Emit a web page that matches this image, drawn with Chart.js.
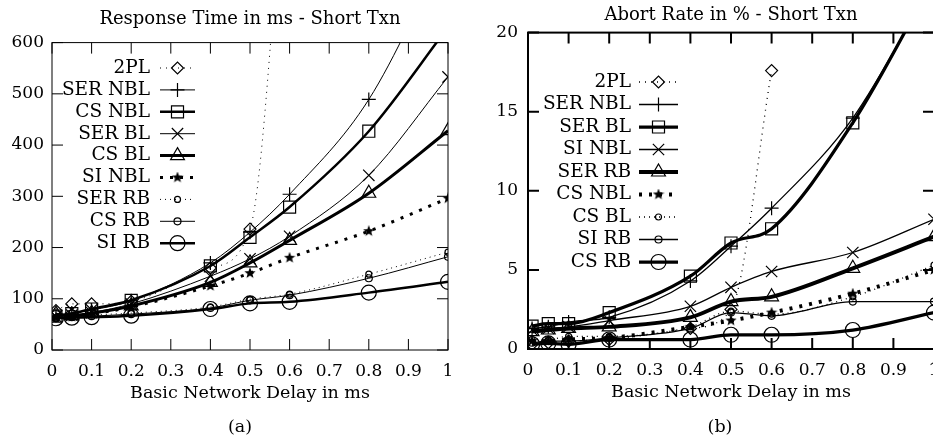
<!DOCTYPE html>
<html>
<head>
<meta charset="utf-8">
<script src="https://cdn.jsdelivr.net/npm/chart.js@4.4.0/dist/chart.umd.min.js"></script>
<style>
  html, body { margin: 0; padding: 0; background: #fff; overflow: hidden; }
  body { width: 933px; height: 443px; position: relative; }
  #cajaA { position: absolute; left: 0; top: 0; width: 466px; height: 443px; }
  #cajaB { position: absolute; left: 466px; top: 0; width: 485px; height: 443px; }
</style>
</head>
<body>
<div id="cajaA"><canvas id="graficoA" width="466" height="443"></canvas></div>
<div id="cajaB"><canvas id="graficoB" width="485" height="443"></canvas></div>
<script>
// Retardo de red (eje x)
const retardos = [0.01, 0.05, 0.1, 0.2, 0.4, 0.5, 0.6, 0.8, 1.0];

// (a) Tiempo de respuesta en ms
const etiquetasA = ["2PL", "SER NBL", "CS NBL", "SER BL", "CS BL", "SI NBL", "SER RB", "CS RB", "SI RB"];
const rt2PL    = [77, 90, 90, 95, 160, 236, 1080];
const rtSerNbl = [68, 72, 78, 96, 170, 230, 304, 489, 790];
const rtCsNbl  = [66, 71, 80, 97, 164, 220, 279, 427, 630];
const rtSerBl  = [65, 68, 73, 90, 144, 178, 222, 341, 533];
const rtCsBl   = [70, 67, 72, 86, 132, 170, 214, 306, 428];
const rtSiNbl  = [63, 65, 70, 84, 125, 150, 180, 232, 296];
const rtSerRb  = [62, 65, 68, 72, 84, 99, 109, 148, 191];
const rtCsRb   = [62, 64, 66, 70, 82, 97, 107, 140, 182];
const rtSiRb   = [62, 63, 64, 67, 80, 91, 94, 112, 133];

// (b) Tasa de abortos en %
const etiquetasB = ["2PL", "SER NBL", "SER BL", "SI NBL", "SER RB", "CS NBL", "CS BL", "SI RB", "CS RB"];
const ab2PL    = [0.3, 0.4, 0.5, 0.6, 1.3, 2.5, 17.6];
const abSerNbl = [1.3, 1.4, 1.7, 2.0, 4.3, 6.5, 8.9, 14.6, 23.3];
const abSerBl  = [1.45, 1.6, 1.6, 2.3, 4.6, 6.7, 7.6, 14.3, 23.4];
const abSiNbl  = [1.2, 1.3, 1.4, 1.8, 2.7, 3.9, 4.9, 6.1, 8.2];
const abSerRb  = [1.1, 1.2, 1.3, 1.4, 2.0, 3.0, 3.3, 5.1, 7.1];
const abCsNbl  = [0.5, 0.5, 0.6, 0.7, 1.4, 1.8, 2.3, 3.5, 5.0];
const abCsBl   = [0.6, 0.6, 0.8, 0.8, 1.4, 2.4, 2.2, 3.3, 5.3];
const abSiRb   = [0.4, 0.5, 0.5, 0.7, 1.3, 2.3, 2.1, 3.0, 3.0];
const abCsRb   = [0.3, 0.35, 0.3, 0.6, 0.6, 0.9, 0.9, 1.2, 2.3];

const fuente = "'DejaVu Serif', serif";

// Estrella rellena para SI NBL / CS NBL
function hacerEstrella(r) {
  const c = document.createElement("canvas");
  c.width = c.height = Math.ceil(2 * r);
  const g = c.getContext("2d");
  g.beginPath();
  for (let i = 0; i < 10; i++) {
    const ang = -Math.PI / 2 + (i * Math.PI) / 5;
    const rr = i % 2 === 0 ? r : r * 0.42;
    g.lineTo(r + rr * Math.cos(ang), r + rr * Math.sin(ang));
  }
  g.closePath();
  g.fillStyle = "#000";
  g.fill();
  return c;
}
const estrella = hacerEstrella(6);

// Estilos de linea y marcador
const est = {
  rombo:    { pointStyle: "rectRot", pointRadius: 6, borderWidth: 1, borderDash: [1, 5] },
  cruz:     { pointStyle: "cross", pointRadius: 7, borderWidth: 1 },
  cuadrado: { pointStyle: "rect", pointRadius: 8.5, borderWidth: 2.5 },
  aspa:     { pointStyle: "crossRot", pointRadius: 8, borderWidth: 1 },
  triang:   { pointStyle: "triangle", pointRadius: 8, borderWidth: 3 },
  estrella: { pointStyle: estrella, pointRadius: 6, borderWidth: 3, borderDash: [3, 7] },
  circPunt: { pointStyle: "circle", pointRadius: 3, borderWidth: 1, borderDash: [1, 4] },
  circ:     { pointStyle: "circle", pointRadius: 3.5, borderWidth: 1 },
  circGr:   { pointStyle: "circle", pointRadius: 7.5, borderWidth: 2.5 }
};

function serie(label, valores, estilo, grosor) {
  return Object.assign({
    label: label,
    data: valores.map((v, i) => ({ x: retardos[i], y: v })),
    borderColor: "#000",
    backgroundColor: "rgba(0,0,0,0)",
    pointBorderColor: "#000",
    pointBackgroundColor: "rgba(0,0,0,0)",
    pointBorderWidth: 1.2,
    cubicInterpolationMode: "monotone",
    fill: false
  }, estilo, grosor ? { borderWidth: estilo.borderWidth * grosor } : {});
}

// Marco, marcas interiores, leyenda y rotulo (a)/(b)
const marco = {
  id: "marco",
  afterDraw(chart, args, op) {
    const { ctx, chartArea: a, scales } = chart;
    ctx.save();
    ctx.strokeStyle = "#000";
    ctx.lineWidth = op.grosorMarco;
    ctx.setLineDash([]);
    ctx.strokeRect(a.left, a.top, a.right - a.left, a.bottom - a.top);
    const L = op.largoMarca;
    ctx.beginPath();
    scales.x.ticks.forEach((t) => {
      const px = scales.x.getPixelForValue(t.value);
      ctx.moveTo(px, a.bottom); ctx.lineTo(px, a.bottom - L);
      ctx.moveTo(px, a.top); ctx.lineTo(px, a.top + L);
    });
    scales.y.ticks.forEach((t) => {
      const py = scales.y.getPixelForValue(t.value);
      ctx.moveTo(a.left, py); ctx.lineTo(a.left + L, py);
      ctx.moveTo(a.right, py); ctx.lineTo(a.right - L, py);
    });
    ctx.stroke();

    // leyenda
    ctx.font = op.fuenteLeyenda;
    ctx.fillStyle = "#000";
    ctx.textAlign = "right";
    ctx.textBaseline = "middle";
    chart.data.datasets.forEach((ds, i) => {
      const y = op.filaY + i * op.filaPaso;
      ctx.fillText(ds.label, op.textoDer, y);
      ctx.lineWidth = ds.borderWidth;
      ctx.setLineDash(ds.borderDash || []);
      ctx.beginPath();
      ctx.moveTo(op.muestraIzq, y);
      ctx.lineTo(op.muestraDer, y);
      ctx.stroke();
      ctx.setLineDash([]);
      ctx.lineWidth = ds.pointBorderWidth;
      ctx.fillStyle = "rgba(0,0,0,0)";
      Chart.helpers.drawPoint(ctx, {
        pointStyle: ds.pointStyle, radius: ds.pointRadius, rotation: 0, borderWidth: ds.pointBorderWidth
      }, (op.muestraIzq + op.muestraDer) / 2, y);
      ctx.fillStyle = "#000";
    });

    // rotulo inferior
    ctx.textAlign = "center";
    ctx.font = "17.5px " + fuente;
    ctx.fillText(op.rotulo, op.rotuloX, op.rotuloY);
    ctx.restore();
  }
};

function crearConfig(etiquetas, valores, estilos, op) {
  const fTick = { family: fuente, size: 17 };
  const fTit = { family: fuente, size: 17.5 };
  return {
    type: "line",
    data: { datasets: valores.map((v, i) => serie(etiquetas[i], v, estilos[i], op.grosor)) },
    options: {
      responsive: false,
      animation: false,
      events: [],
      layout: { padding: { top: 0, left: 0, right: op.padDer, bottom: op.padAbajo } },
      plugins: {
        legend: { display: false },
        tooltip: { enabled: false },
        title: {
          display: true, text: op.titulo, fullSize: false, color: "#000",
          font: { family: fuente, size: 18, weight: "normal" },
          padding: { top: op.titArriba, bottom: op.titAbajo }
        },
        marco: op.marco
      },
      scales: {
        x: {
          type: "linear", min: 0, max: 1,
          ticks: {
            stepSize: 0.1, color: "#000", font: fTick, padding: 11, maxRotation: 0, autoSkip: false,
            callback: (v) => String(Math.round(v * 10) / 10)
          },
          grid: { display: false, drawTicks: false },
          border: { display: false },
          title: { display: true, text: "Basic Network Delay in ms", color: "#000", font: fTit, padding: { top: 0, bottom: 12 } },
          afterFit: (s) => { s.height = 66; }
        },
        y: {
          min: 0, max: op.yMax,
          ticks: { stepSize: op.yPaso, color: "#000", font: fTick, padding: op.yPad },
          grid: { display: false, drawTicks: false },
          border: { display: false },
          afterFit: (s) => { s.width = op.anchoY; }
        }
      }
    },
    plugins: [marco]
  };
}

new Chart(document.getElementById("graficoA"), crearConfig(
  etiquetasA,
  [rt2PL, rtSerNbl, rtCsNbl, rtSerBl, rtCsBl, rtSiNbl, rtSerRb, rtCsRb, rtSiRb],
  [est.rombo, est.cruz, est.cuadrado, est.aspa, est.triang, est.estrella, est.circPunt, est.circ, est.circGr],
  {
    titulo: "Response Time in ms - Short Txn", titArriba: 9, titAbajo: 12,
    padDer: 18, padAbajo: 27, yMax: 600, yPaso: 100, yPad: 8, anchoY: 52, grosor: 1,
    marco: {
      grosorMarco: 1, largoMarca: 11, fuenteLeyenda: "18.5px " + fuente,
      filaY: 68, filaPaso: 21.9, textoDer: 150, muestraIzq: 160, muestraDer: 195,
      rotulo: "(a)", rotuloX: 240, rotuloY: 427
    }
  }
));

new Chart(document.getElementById("graficoB"), crearConfig(
  etiquetasB,
  [ab2PL, abSerNbl, abSerBl, abSiNbl, abSerRb, abCsNbl, abCsBl, abSiRb, abCsRb],
  [est.rombo, est.cruz, est.cuadrado, est.aspa, est.triang, est.estrella, est.circPunt, est.circ, est.circGr],
  {
    titulo: "Abort Rate in % - Short Txn", titArriba: 5, titAbajo: 6,
    padDer: 17, padAbajo: 28, yMax: 20, yPaso: 5, yPad: 10, anchoY: 62, grosor: 1.3,
    marco: {
      grosorMarco: 2, largoMarca: 11, fuenteLeyenda: "18.5px " + fuente,
      filaY: 82, filaPaso: 22.5, textoDer: 165, muestraIzq: 173, muestraDer: 212,
      rotulo: "(b)", rotuloX: 254, rotuloY: 427
    }
  }
));
</script>
</body>
</html>
